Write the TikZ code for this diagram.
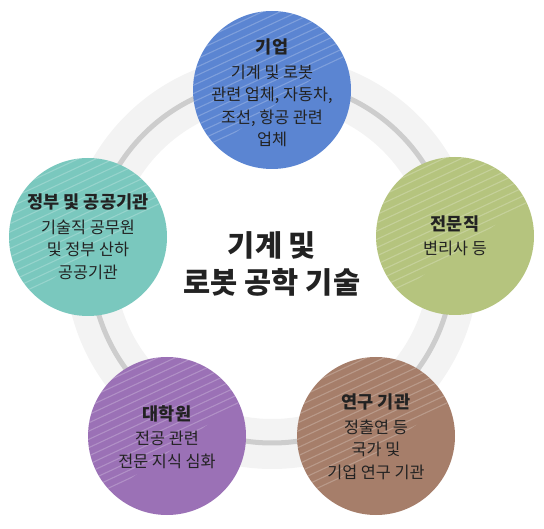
\documentclass[tikz,border=0pt]{standalone}
\usepackage{fontspec}
\setmainfont{Noto Sans CJK KR}
\definecolor{bandgray}{HTML}{F3F3F3}
\definecolor{linegray}{HTML}{CDCDCD}
\definecolor{cblue}{HTML}{5B85D2}
\definecolor{cgreen}{HTML}{B5C47E}
\definecolor{cteal}{HTML}{7AC8BE}
\definecolor{cpurple}{HTML}{9B71B6}
\definecolor{cbrown}{HTML}{A67E6A}
\definecolor{txt}{HTML}{222222}
\newcommand\hatchfill[1]{%
  \begin{scope}
    \clip (#1.center) circle (79);
    \begin{scope}[shift={(#1.center)},rotate=35]
      \clip (-100,-14) rectangle (100,100);
      \begin{scope}[rotate=-10]
        \foreach \k in {-14,...,14}{
          \draw[white,opacity=0.22,line width=1.1pt] (-110,\k*7.5) -- (110,\k*7.5);
        }
      \end{scope}
    \end{scope}
  \end{scope}}
\begin{document}
\begin{tikzpicture}[x=1pt,y=1pt,
  bubble/.style={circle,minimum size=158pt,inner sep=0pt,fill=#1},
  label/.style={text=txt,align=center,font=\fontsize{16.3}{22.5}\selectfont},
  bt/.style={}
]
\useasboundingbox (0,0) rectangle (544,528);
\coordinate (ringc) at (272,266);
\draw[bandgray,line width=50pt] (ringc) circle (182);
\draw[linegray,line width=5pt] (ringc) circle (181);

\node[bubble=cblue] (company) at (272,438) {};
\node[bubble=cgreen] (expert) at (455,292) {};
\node[bubble=cbrown] (research) at (376,92) {};
\node[bubble=cpurple] (grad) at (167,92) {};
\node[bubble=cteal] (gov) at (88,291) {};
\hatchfill{company}
\hatchfill{expert}
\hatchfill{research}
\hatchfill{grad}
\hatchfill{gov}

\node[label] (companyt) at (272,435)
  {{\fontsize{17.5}{20}\selectfont\bfseries 기업}\\[2pt]기계 및 로봇\\관련 업체, 자동차,\\조선, 항공 관련\\업체};
\node[label] (expertt) at (455,292)
  {{\fontsize{17.5}{20}\selectfont\bfseries 전문직}\\[2pt]변리사 등};
\node[label] (researcht) at (376,91)
  {{\fontsize{17.5}{20}\selectfont\bfseries 연구 기관}\\[2pt]정출연 등\\국가 및\\기업 연구 기관};
\node[label] (gradt) at (167,91)
  {{\fontsize{17.5}{20}\selectfont\bfseries 대학원}\\[2pt]전공 관련\\전문 지식 심화};
\node[label] (govt) at (88,291)
  {{\fontsize{17.5}{20}\selectfont\bfseries 정부 및 공공기관}\\[2pt]기술직 공무원\\및 정부 산하\\공공기관};

\node[text=txt,align=center,font=\fontsize{29.5}{37}\selectfont\bfseries] (title) at (272,264.5)
  {기계 및\\로봇 공학 기술};
\end{tikzpicture}
\end{document}
